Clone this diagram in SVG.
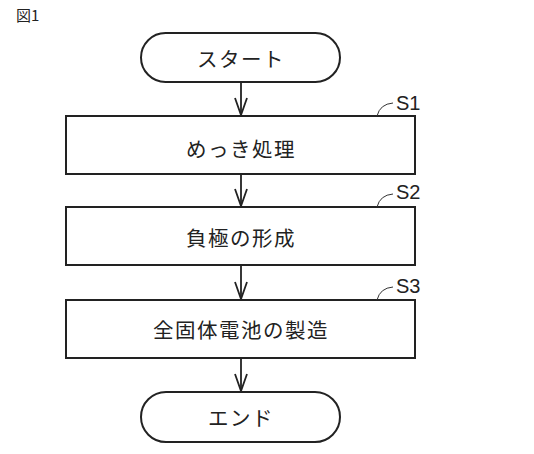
<svg xmlns="http://www.w3.org/2000/svg" width="534" height="454" viewBox="0 0 534 454">
<style>
.box{fill:#fff;stroke:#222;stroke-width:2}
.t{font-family:"Noto Sans CJK JP","Noto Sans",sans-serif;font-size:20.5px;fill:#222;text-anchor:middle;dominant-baseline:central;letter-spacing:1.5px}
.lbl{font-family:"Liberation Sans",Arial,sans-serif;font-size:20px;fill:#222}
.fig{font-family:"Noto Sans CJK JP","Liberation Sans",sans-serif;font-size:15px;fill:#222}
.ln{fill:none;stroke:#222;stroke-width:1.8}
.ld{fill:none;stroke:#333;stroke-width:1}
</style>
<defs>
<marker id="ah" markerWidth="20" markerHeight="14" refX="18" refY="7" orient="auto" markerUnits="userSpaceOnUse" viewBox="0 0 20 14">
<path d="M1,1 L18,7 L1,13" fill="none" stroke="#222" stroke-width="1.8"/>
</marker>
</defs>
<rect width="534" height="454" fill="#fff"/>
<text class="fig" x="16" y="21">図1</text>
<g id="connectors">
<line class="ln" x1="241" y1="82" x2="241" y2="115" marker-end="url(#ah)"/>
<line class="ln" x1="241" y1="174" x2="241" y2="206" marker-end="url(#ah)"/>
<line class="ln" x1="241" y1="265" x2="241" y2="299" marker-end="url(#ah)"/>
<line class="ln" x1="241" y1="358" x2="241" y2="391" marker-end="url(#ah)"/>
</g>
<g id="start">
<rect class="box" x="141" y="33" width="199" height="49" rx="24.5" ry="24.5"/>
<text class="t" x="241" y="58">スタート</text>
</g>
<g id="s1">
<rect class="box" x="66" y="116" width="349" height="58"/>
<text class="t" x="241" y="148">めっき処理</text>
<path class="ld" d="M377,116 Q380,104 393,103"/>
<text class="lbl" x="396" y="110">S1</text>
</g>
<g id="s2">
<rect class="box" x="66" y="207" width="349" height="58"/>
<text class="t" x="241" y="237">負極の形成</text>
<path class="ld" d="M377,207 Q380,195 393,194"/>
<text class="lbl" x="396" y="199">S2</text>
</g>
<g id="s3">
<rect class="box" x="66" y="300" width="349" height="58"/>
<text class="t" x="241" y="329">全固体電池の製造</text>
<path class="ld" d="M377,300 Q380,288 393,287"/>
<text class="lbl" x="396" y="293">S3</text>
</g>
<g id="end">
<rect class="box" x="141" y="392" width="199" height="50" rx="25" ry="25"/>
<text class="t" x="241" y="417">エンド</text>
</g>
</svg>
